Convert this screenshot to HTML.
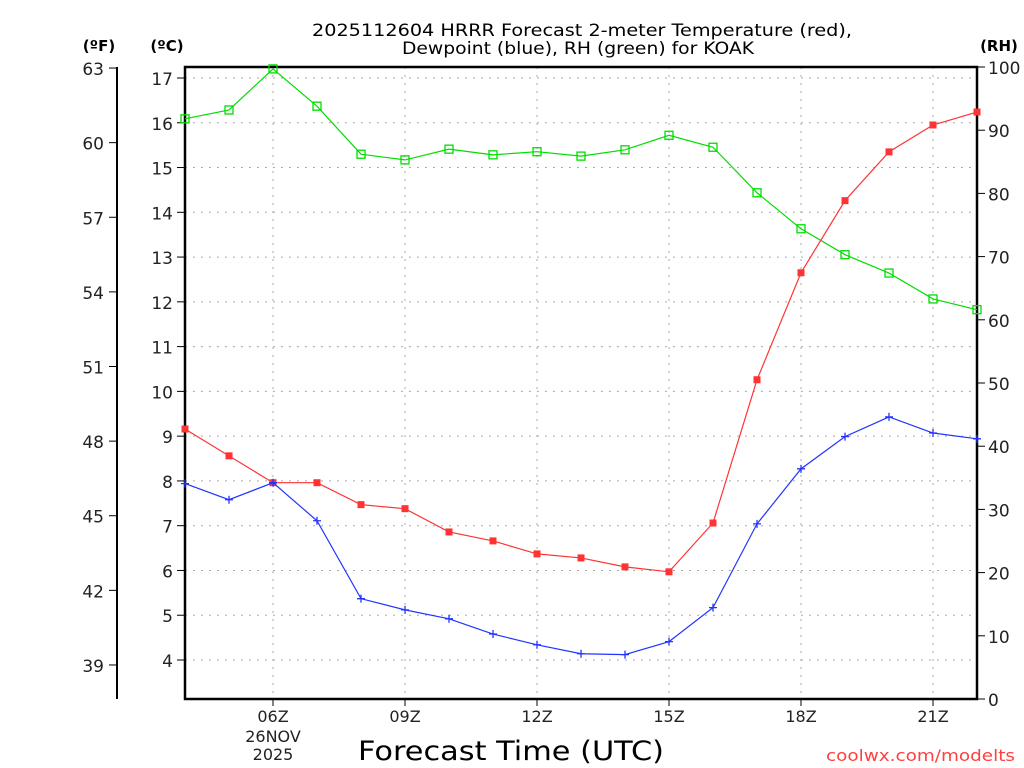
<!DOCTYPE html>
<html><head><meta charset="utf-8"><style>
body{margin:0;background:#fff}
svg{display:block}
text{font-family:"DejaVu Sans","Liberation Sans",sans-serif}
</style></head><body>
<svg id="c" width="1024" height="768">
<g id="grid"></g>
<g id="axes"></g>
<g id="series"></g>
<text x="582" y="36" text-anchor="middle" font-size="17" textLength="540" lengthAdjust="spacingAndGlyphs">2025112604 HRRR Forecast 2-meter Temperature (red),</text>
<text x="578" y="54" text-anchor="middle" font-size="17" textLength="352" lengthAdjust="spacingAndGlyphs">Dewpoint (blue), RH (green) for KOAK</text>
<text x="99" y="51" text-anchor="middle" font-size="15" font-weight="bold">(ºF)</text>
<text x="167" y="51" text-anchor="middle" font-size="15" font-weight="bold">(ºC)</text>
<text x="999" y="51" text-anchor="middle" font-size="15" font-weight="bold">(RH)</text>
<text x="511" y="760" text-anchor="middle" font-size="27" textLength="306" lengthAdjust="spacingAndGlyphs">Forecast Time (UTC)</text>
<text x="1015" y="761" text-anchor="end" font-size="16" fill="#ff4040" textLength="189" lengthAdjust="spacingAndGlyphs">coolwx.com/modelts</text>
</svg>
<script>
const hours=[4,5,6,7,8,9,10,11,12,13,14,15,16,17,18,19,20,21,22];
const tempC=[9.16,8.56,7.96,7.96,7.47,7.38,6.86,6.66,6.37,6.28,6.08,5.97,7.06,10.26,12.65,14.26,15.35,15.95,16.24];
const dewC=[7.94,7.58,7.96,7.11,5.37,5.12,4.92,4.58,4.34,4.14,4.12,4.41,5.17,7.04,8.27,8.99,9.43,9.07,8.94];
const rh=[91.8,93.2,99.7,93.8,86.2,85.3,87.0,86.1,86.6,85.9,86.9,89.2,87.3,80.1,74.4,70.3,67.4,63.3,61.6];
const cTicks=[4,5,6,7,8,9,10,11,12,13,14,15,16,17];
const fTicks=[39,42,45,48,51,54,57,60,63];
const rhTicks=[0,10,20,30,40,50,60,70,80,90,100];
const xTicks=[6,9,12,15,18,21];
const xLabels=["06Z","09Z","12Z","15Z","18Z","21Z"];

const L=185,R=977,T=67,B=699;
const x=h=>L+(h-4)*44;
const yC=c=>660-(c-4)*44.77;
const yF=f=>yC((f-32)/1.8);
const yR=r=>B-r*6.32;
const NS="http://www.w3.org/2000/svg";
function mk(tag,at,parent){const e=document.createElementNS(NS,tag);for(const k in at)e.setAttribute(k,at[k]);document.getElementById(parent).appendChild(e);return e;}

cTicks.forEach(c=>{
 const g=mk('line',{x1:L,x2:R,y1:yC(c),y2:yC(c),stroke:'#aaa','stroke-dasharray':'2,6'},'grid');
 
 
 const t=mk('line',{x1:177,x2:L,y1:yC(c),y2:yC(c),stroke:'#000'},'axes');
 
 
 const l=mk('text',{x:173,y:yC(c)+7,'text-anchor':'end','font-size':17,fill:'#222'},'axes');l.textContent=c;
 
 
});
xTicks.forEach((h,i)=>{
 const g=mk('line',{x1:x(h),x2:x(h),y1:T,y2:B,stroke:'#aaa','stroke-dasharray':'2,6'},'grid');
 
 
 const t=mk('line',{x1:x(h),x2:x(h),y1:B,y2:B+7,stroke:'#000'},'axes');
 
 
 const l=mk('text',{x:x(h),y:722,'text-anchor':'middle','font-size':16,fill:'#222'},'axes');l.textContent=xLabels[i];
 
 
});
[["26NOV",742],["2025",760]].forEach(([s,yy])=>{
 const l=mk('text',{x:x(6),y:yy,'text-anchor':'middle','font-size':16,fill:'#222'},'axes');l.textContent=s;
 
 
});
fTicks.forEach(f=>{
 const t=mk('line',{x1:109,x2:117,y1:yF(f),y2:yF(f),stroke:'#000'},'axes');
 
 
 const l=mk('text',{x:104,y:yF(f)+7,'text-anchor':'end','font-size':17,fill:'#222'},'axes');l.textContent=f;
 
 
});
rhTicks.forEach(r=>{
 const t=mk('line',{x1:R,x2:R+8,y1:yR(r),y2:yR(r),stroke:'#000'},'axes');
 
 
 const l=mk('text',{x:988,y:yR(r)+7,'font-size':17,fill:'#222'},'axes');l.textContent=r;
 
 
});
const fa=mk('line',{x1:117,x2:117,y1:67,y2:B,stroke:'#000','stroke-width':2},'axes');


const fr=mk('rect',{x:L,y:T,width:R-L,height:B-T,fill:'none',stroke:'#000','stroke-width':2.5},'axes');



function series(vals,yf,color,name,marker){
 const pts=vals.map((v,i)=>x(hours[i])+','+yf(v)).join(' ');
 const p=mk('polyline',{points:pts,fill:'none',stroke:color,'stroke-width':1.2},'series');
 
 
 vals.forEach((v,i)=>{
  const cx=x(hours[i]),cy=yf(v);let m;
  if(marker==='fill')m=mk('rect',{x:cx-3.5,y:cy-3.5,width:7,height:7,fill:color},'series');
  else if(marker==='open')m=mk('rect',{x:cx-4,y:cy-4,width:8,height:8,fill:'none',stroke:color,'stroke-width':1.3},'series');
  else m=mk('path',{d:`M${cx-4},${cy}H${cx+4}M${cx},${cy-4}V${cy+4}`,stroke:color,'stroke-width':1.3},'series');
  
  
 });
}
series(rh,yR,'#00dd00','rh','open');
series(tempC,yC,'#ff3333','temperature','fill');
series(dewC,yC,'#2233ff','dewpoint','plus');
</script>
</body></html>
